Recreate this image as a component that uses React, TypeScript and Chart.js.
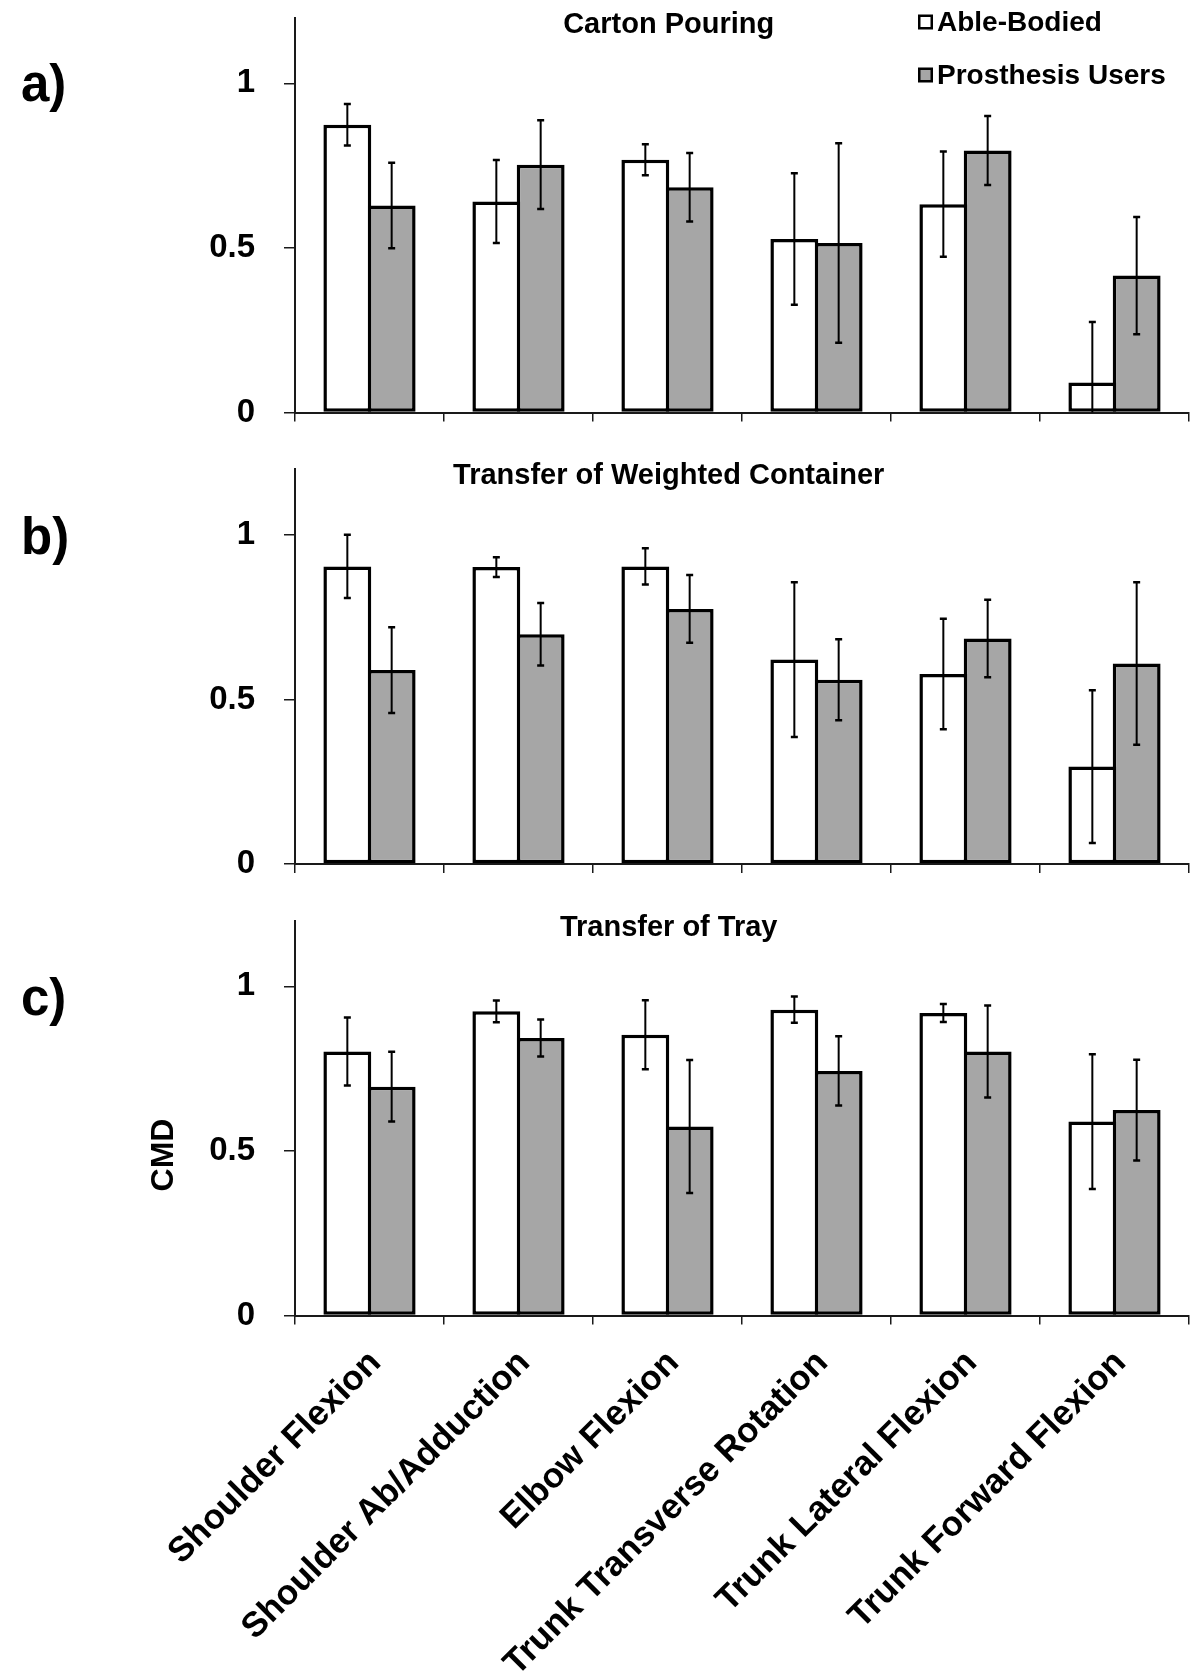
import React, { useEffect, useRef } from 'react';
import { Chart, registerables } from 'chart.js';

Chart.register(...registerables);

// ---------------- DATA ----------------
const categories = [
  'Shoulder Flexion',
  'Shoulder Ab/Adduction',
  'Elbow Flexion',
  'Trunk Transverse Rotation',
  'Trunk Lateral Flexion',
  'Trunk Forward Flexion',
];
const seriesNames = ['Able-Bodied', 'Prosthesis Users'];
const yTickValues = [0, 0.5, 1];
const yAxisTitle = 'CMD';

// a) Carton Pouring
const cartonAbleMean = [0.874, 0.641, 0.768, 0.527, 0.633, 0.091];
const cartonAbleSD = [0.063, 0.126, 0.047, 0.2, 0.16, 0.184];
const cartonProsMean = [0.629, 0.753, 0.684, 0.515, 0.796, 0.416];
const cartonProsSD = [0.13, 0.135, 0.104, 0.303, 0.105, 0.178];

// b) Transfer of Weighted Container
const weightedAbleMean = [0.904, 0.902, 0.904, 0.621, 0.577, 0.296];
const weightedAbleSD = [0.096, 0.03, 0.055, 0.235, 0.168, 0.232];
const weightedProsMean = [0.589, 0.698, 0.775, 0.56, 0.685, 0.609];
const weightedProsSD = [0.13, 0.095, 0.103, 0.123, 0.118, 0.247];

// c) Transfer of Tray
const trayAbleMean = [0.802, 0.924, 0.853, 0.929, 0.919, 0.589];
const trayAbleSD = [0.103, 0.033, 0.105, 0.04, 0.027, 0.205];
const trayProsMean = [0.695, 0.843, 0.574, 0.743, 0.802, 0.624];
const trayProsSD = [0.106, 0.056, 0.202, 0.105, 0.14, 0.153];

// ---------------- LAYOUT / STYLE ----------------
const FONT = '"Liberation Sans", Arial, Helvetica, sans-serif';
const GRAY = '#a6a6a6';
const AXIS = '#1a1a1a';

type PanelSpec = {
  tag: string;
  title: string;
  able: number[];
  ableSD: number[];
  pros: number[];
  prosSD: number[];
  top: number;
  height: number;
  padTop: number;
  xHeight: number;
  tagY: number;
  legend: boolean;
  showX: boolean;
  yTitle: boolean;
};

const panels: PanelSpec[] = [
  {
    tag: 'a)', title: 'Carton Pouring',
    able: cartonAbleMean, ableSD: cartonAbleSD, pros: cartonProsMean, prosSD: cartonProsSD,
    top: 0, height: 430, padTop: 17.5, xHeight: 17.5, tagY: 101, legend: true, showX: false, yTitle: false,
  },
  {
    tag: 'b)', title: 'Transfer of Weighted Container',
    able: weightedAbleMean, ableSD: weightedAbleSD, pros: weightedProsMean, prosSD: weightedProsSD,
    top: 430, height: 450, padTop: 39, xHeight: 16, tagY: 124, legend: false, showX: false, yTitle: false,
  },
  {
    tag: 'c)', title: 'Transfer of Tray',
    able: trayAbleMean, ableSD: trayAbleSD, pros: trayProsMean, prosSD: trayProsSD,
    top: 880, height: 797, padTop: 40.5, xHeight: 361.5, tagY: 135, legend: false, showX: true, yTitle: true,
  },
];

const decorPlugin = {
  id: 'decor',
  afterDatasetsDraw(chart: any) {
    const ctx = chart.ctx as CanvasRenderingContext2D;
    const ys = chart.scales.y;
    ctx.save();
    ctx.strokeStyle = '#000';
    chart.data.datasets.forEach((ds: any, i: number) => {
      const meta = chart.getDatasetMeta(i);
      meta.data.forEach((bar: any, j: number) => {
        const m = ds.data[j];
        const e = ds.errors[j];
        const x = bar.x;
        const yTop = ys.getPixelForValue(m + e);
        const lowVal = m - e;
        const yBot = ys.getPixelForValue(Math.max(0, lowVal));
        ctx.lineWidth = 2;
        ctx.beginPath();
        ctx.moveTo(x, yTop);
        ctx.lineTo(x, yBot);
        ctx.stroke();
        ctx.lineWidth = 2.5;
        ctx.beginPath();
        ctx.moveTo(x - 3.5, yTop);
        ctx.lineTo(x + 3.5, yTop);
        if (lowVal > 0) {
          ctx.moveTo(x - 3.5, yBot);
          ctx.lineTo(x + 3.5, yBot);
        }
        ctx.stroke();
      });
    });
    ctx.restore();
  },
  afterDraw(chart: any, _args: any, opts: any) {
    const ctx = chart.ctx as CanvasRenderingContext2D;
    const area = chart.chartArea;
    ctx.save();
    ctx.fillStyle = '#000';
    // panel title
    ctx.font = `bold 29px ${FONT}`;
    ctx.textAlign = 'center';
    ctx.textBaseline = 'middle';
    ctx.fillText(opts.title, area.left + 0.418 * (area.right - area.left), area.top + 7);
    // panel tag
    ctx.font = `bold 51px ${FONT}`;
    ctx.textAlign = 'left';
    ctx.textBaseline = 'alphabetic';
    ctx.fillText(opts.tag, 21, opts.tagY);
    // y axis title
    if (opts.yTitle) {
      ctx.save();
      ctx.translate(164, 275);
      ctx.rotate(-Math.PI / 2);
      ctx.font = `bold 32px ${FONT}`;
      ctx.textAlign = 'center';
      ctx.textBaseline = 'middle';
      ctx.fillText(yAxisTitle, 0, 0);
      ctx.restore();
    }
    // legend
    if (opts.legend) {
      const rows = [22, 75];
      chart.data.datasets.forEach((ds: any, i: number) => {
        const cy = rows[i];
        const bx = 918;
        const size = 15;
        ctx.fillStyle = '#000';
        ctx.fillRect(bx, cy - size / 2, size, size);
        ctx.fillStyle = ds.backgroundColor;
        ctx.fillRect(bx + 2.5, cy - size / 2 + 2.5, size - 5, size - 5);
        ctx.fillStyle = '#000';
        ctx.font = `bold 28px ${FONT}`;
        ctx.textAlign = 'left';
        ctx.textBaseline = 'middle';
        ctx.fillText(ds.label, bx + size + 4, cy + 1);
      });
    }
    ctx.restore();
  },
};

function Panel({ spec }: { spec: PanelSpec }) {
  const ref = useRef<HTMLCanvasElement | null>(null);
  useEffect(() => {
    if (!ref.current) return;
    const barStyle = {
      borderColor: '#000',
      borderWidth: 3.5,
      borderSkipped: false,
      categoryPercentage: 0.595,
      barPercentage: 1.08,
    };
    const chart = new Chart(ref.current, {
      type: 'bar',
      data: {
        labels: categories,
        datasets: [
          { label: seriesNames[0], data: spec.able, errors: spec.ableSD, backgroundColor: '#ffffff', ...barStyle } as any,
          { label: seriesNames[1], data: spec.pros, errors: spec.prosSD, backgroundColor: GRAY, ...barStyle } as any,
        ],
      },
      options: {
        animation: false,
        responsive: false,
        maintainAspectRatio: false,
        layout: { padding: { top: spec.padTop, left: 0, right: 11, bottom: 0 } },
        plugins: {
          legend: { display: false },
          title: { display: false },
          tooltip: { enabled: false },
          decor: { title: spec.title, tag: spec.tag, tagY: spec.tagY, legend: spec.legend, yTitle: spec.yTitle },
        } as any,
        scales: {
          x: {
            offset: true,
            grid: { drawOnChartArea: false, drawTicks: true, tickLength: 9, color: AXIS, lineWidth: 1.5, offset: true },
            border: { display: true, color: AXIS, width: 2 },
            ticks: {
              display: spec.showX,
              autoSkip: false,
              minRotation: 45,
              maxRotation: 45,
              padding: 18,
              labelOffset: 6,
              color: '#000',
              font: { family: FONT, size: 35, weight: 'bold' },
            },
            afterFit: (s: any) => {
              s.height = spec.xHeight;
              s.paddingLeft = 0;
              s.paddingRight = 0;
            },
          },
          y: {
            min: 0,
            max: 1.2,
            afterBuildTicks: (s: any) => { s.ticks = yTickValues.map((v) => ({ value: v })); },
            grid: { drawOnChartArea: false, drawTicks: true, tickLength: 11, color: AXIS, lineWidth: 1.5 },
            border: { display: true, color: AXIS, width: 2 },
            ticks: {
              padding: 29,
              color: '#000',
              font: { family: FONT, size: 33, weight: 'bold' },
              callback: (v: any) => String(v),
            },
            afterFit: (s: any) => {
              s.width = 295;
              s.paddingTop = 0;
              s.paddingBottom = 0;
            },
          },
        } as any,
      },
      plugins: [decorPlugin as any],
    });
    return () => chart.destroy();
  }, [spec]);
  return (
    <canvas
      ref={ref}
      width={1200}
      height={spec.height}
      style={{ position: 'absolute', left: 0, top: spec.top, width: 1200, height: spec.height }}
    />
  );
}

export default function App() {
  return (
    <div style={{ position: 'absolute', left: 0, top: 0, width: 1200, height: 1677, background: '#fff' }}>
      {panels.map((p) => (
        <Panel key={p.tag} spec={p} />
      ))}
    </div>
  );
}
